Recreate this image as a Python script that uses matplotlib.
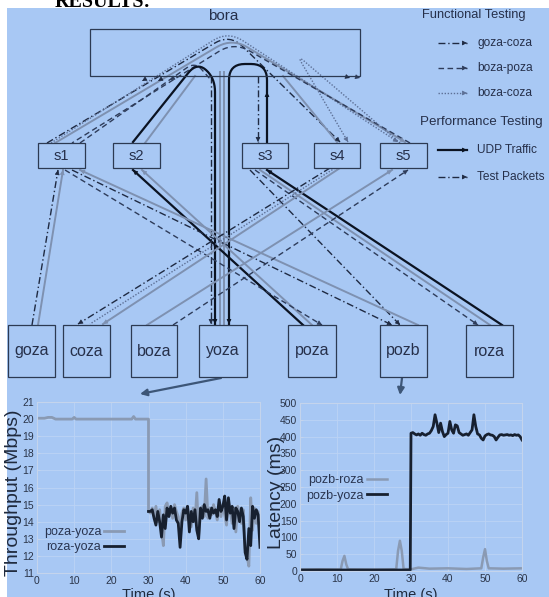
import matplotlib.pyplot as plt
import numpy as np
from matplotlib.patches import Rectangle

plt.rcParams['font.family'] = ['Liberation Sans', 'DejaVu Sans']

BG = '#a8c8f4'
INK = '#26304a'

# ---------------- chart data ----------------
thr_time_pre = [0, 2, 3, 4, 5, 9.5, 10, 10.5, 25.5, 26, 26.5, 30]
poza_yoza_pre = [20.05, 20.05, 20.1, 20.1, 20.0, 20.0, 20.1, 20.0, 20.0, 20.15, 20.0, 20.0]
time_post = np.arange(30, 60.01, 0.5)
poza_yoza_post = [14.6, 14.5, 14.8, 14.3, 14.9, 14.0, 14.7, 13.5, 12.6, 14.9,
                  15.1, 14.4, 14.8, 14.2, 15.0, 14.6, 14.3, 13.2, 14.5, 14.8,
                  14.1, 14.9, 14.4, 13.7, 14.8, 14.0, 15.7, 13.2, 14.5, 14.9,
                  14.3, 16.5, 14.2, 14.8, 14.4, 15.0, 14.6, 14.1, 14.8, 14.3,
                  15.0, 14.4, 13.8, 15.1, 14.6, 13.9, 14.8, 13.4, 14.9, 14.5,
                  13.9, 14.7, 12.4, 12.0, 11.4, 15.4, 13.5, 14.8, 13.9, 14.6, 13.2]
roza_yoza_post = [14.6, 14.6, 14.7, 14.2, 13.8, 14.6, 14.0, 13.1, 14.4, 13.6,
                  14.8, 14.3, 14.9, 14.5, 14.8, 14.1, 13.9, 12.5, 14.0, 14.7,
                  14.5, 14.9, 13.4, 14.6, 14.0, 14.7, 13.5, 13.0, 14.8, 14.2,
                  15.0, 14.6, 14.7, 14.2, 14.8, 14.5, 14.7, 14.3, 15.3, 14.6,
                  14.9, 15.5, 14.1, 15.4, 14.5, 14.9, 13.6, 14.8, 14.6, 14.0,
                  14.8, 14.3, 12.2, 11.8, 13.6, 12.6, 14.9, 14.2, 14.7, 14.4, 12.5]

lat_roza_time = [0, 5, 11, 11.5, 12, 12.5, 13, 20, 26, 26.5, 27, 27.5, 28, 30,
                 32, 35, 40, 45, 49, 49.5, 50, 50.5, 51, 55, 60]
pozb_roza = [4, 5, 4, 30, 45, 20, 5, 4, 5, 60, 90, 60, 6, 5,
             10, 7, 8, 6, 8, 40, 65, 30, 8, 7, 8]
lat_yoza_time_pre = [0, 15, 29.8]
pozb_yoza_pre = [3, 3, 3]
pozb_yoza_post = [410, 412, 408, 405, 408, 404, 410, 406, 404, 408,
                  410, 418, 430, 465, 440, 412, 440, 415, 400, 406,
                  410, 445, 420, 410, 435, 432, 412, 408, 404, 406,
                  408, 404, 412, 420, 465, 430, 408, 405, 395, 390,
                  402, 406, 408, 405, 404, 400, 390, 398, 405, 406,
                  404, 405, 406, 404, 405, 403, 406, 404, 405, 400, 390]

# ---------------- diagram layout ----------------
boxes = {
    'bora': (90, 29, 360, 76),
    's1': (38, 143, 85, 168), 's2': (113, 143, 160, 168), 's3': (242, 143, 288, 168),
    's4': (314, 143, 360, 168), 's5': (380, 143, 427, 168),
    'goza': (8, 325, 55, 377), 'coza': (63, 325, 110, 377), 'boza': (131, 325, 177, 377),
    'yoza': (199, 325, 247, 377), 'poza': (288, 325, 336, 377),
    'pozb': (380, 325, 427, 377), 'roza': (466, 325, 513, 377),
}

STY = {
    'dd': dict(c='#1f2a42', lw=1.0, ls=(0, (5, 2, 1, 2))),
    'da': dict(c='#2e3c5a', lw=1.0, ls=(0, (4, 2.5))),
    'dt': dict(c='#5d7096', lw=1.0, ls=(0, (1, 1.2))),
    'gr': dict(c='#7e91b1', lw=1.4, ls='-'),
    'udp': dict(c='#0b1322', lw=1.6, ls='-'),
}

fig = plt.figure(figsize=(5.49, 5.97), dpi=100, facecolor='white')
ax = fig.add_axes([0, 0, 1, 1])
ax.set_xlim(0, 549)
ax.set_ylim(597, 0)
ax.axis('off')

ax.add_patch(Rectangle((7, 7.5), 542, 590, facecolor=BG, edgecolor='none', zorder=0))
ax.text(55, 7, 'RESULTS:', family=['Liberation Serif', 'DejaVu Serif'], fontweight='bold',
        fontsize=14.5, va='baseline', ha='left', color='black', zorder=0.5)


def rounded(pts, r=10, n=10):
    pts = [np.array(p, float) for p in pts]
    out = [pts[0]]
    for i in range(1, len(pts) - 1):
        a, p, b = pts[i - 1], pts[i], pts[i + 1]
        da, db = a - p, b - p
        p1 = p + da * min(r / np.hypot(*da), 0.5)
        p2 = p + db * min(r / np.hypot(*db), 0.5)
        for s in np.linspace(0, 1, n):
            out.append((1 - s) ** 2 * p1 + 2 * (1 - s) * s * p + s ** 2 * p2)
    out.append(pts[-1])
    return np.array(out)


def head(p0, p1, color, size=7):
    p0, p1 = np.array(p0, float), np.array(p1, float)
    u = (p1 - p0) / np.hypot(*(p1 - p0))
    ax.annotate('', xy=p1, xytext=p1 - u * 4,
                arrowprops=dict(arrowstyle='-|>', color=color, lw=0.5,
                                mutation_scale=size, shrinkA=0, shrinkB=0), zorder=3)


def edge(pts, style, arrow=True, r=10):
    xy = rounded(pts, r)
    st = STY[style]
    ax.plot(xy[:, 0], xy[:, 1], color=st['c'], lw=st['lw'], ls=st['ls'], zorder=2)
    if arrow:
        head(xy[-2], xy[-1], st['c'])


# functional testing paths (over bora)
edge([(32, 325), (58, 170)], 'dd')
edge([(38, 325), (63, 170)], 'gr')
edge([(47, 143), (230, 34), (340, 142)], 'dd', r=18)
edge([(55, 143), (232, 38), (405, 142)], 'gr', r=18)
edge([(51, 143), (228, 31), (398, 142)], 'dt', r=18)
edge([(410, 143), (234, 42), (72, 143)], 'da', arrow=False, r=18)
head((234, 42), (170, 80), STY['da']['c'])
head((228, 31), (142, 81), STY['dd']['c'])
head((232, 38), (158, 81), STY['dd']['c'])
head((232, 38), (350, 78), STY['dd']['c'])
head((234, 42), (360, 78), STY['da']['c'])
edge([(400, 143), (297, 55), (348, 142)], 'dt', r=10)
edge([(80, 143), (195, 62), (211, 80)], 'da', arrow=False, r=10)
edge([(337, 142), (283, 76)], 'gr', arrow=False)

# bora to hosts / switches
edge([(211, 76), (211, 324)], 'dd')
edge([(258, 76), (258, 142)], 'dd')
edge([(220, 72), (220, 324)], 'gr', arrow=False)
edge([(224, 72), (224, 324)], 'gr', arrow=False)

# performance testing: UDP traffic
edge([(133, 142), (197, 62), (215, 78), (215, 324)], 'udp', r=14)
edge([(267, 143), (267, 64), (229, 64), (229, 324)], 'udp', r=16)
head((267, 120), (267, 92), STY['udp']['c'])
edge([(145, 143), (195, 76)], 'gr', arrow=False)

# switch <-> host crossings
edge([(303, 325), (133, 170)], 'udp')
edge([(312, 325), (142, 170)], 'gr')
edge([(502, 325), (267, 170)], 'udp')
edge([(260, 170), (490, 325)], 'gr', arrow=False)
edge([(255, 170), (478, 325)], 'da')
edge([(250, 170), (400, 325)], 'dd')
edge([(65, 170), (322, 325)], 'da')
edge([(418, 325), (80, 170)], 'gr')
edge([(72, 170), (392, 325)], 'dd')
edge([(330, 168), (78, 324)], 'dd')
edge([(340, 168), (103, 324)], 'gr')
edge([(335, 168), (90, 324)], 'dt', arrow=False)
edge([(147, 325), (392, 170)], 'gr')
edge([(173, 325), (408, 170)], 'da')

# boxes and labels
for name, (x0, y0, x1, y1) in boxes.items():
    face = 'none' if name == 'bora' else BG
    ax.add_patch(Rectangle((x0, y0), x1 - x0, y1 - y0, facecolor=face,
                           edgecolor='#2c3a52', lw=0.9, zorder=4))
    if name == 'bora':
        ax.text((x0 + x1) / 2 - 2, 16, name, ha='center', va='center', fontsize=11,
                color=INK, zorder=5)
    elif name.startswith('s'):
        ax.text((x0 + x1) / 2, (y0 + y1) / 2 + 1, name, ha='center', va='center',
                fontsize=10.5, color=INK, zorder=5)
    else:
        ax.text((x0 + x1) / 2, (y0 + y1) / 2, name, ha='center', va='center',
                fontsize=11.5, color=INK, zorder=5)

# diagram legend
ax.text(422, 15, 'Functional Testing', fontsize=9.3, color=INK, va='center')
ax.text(420, 122, 'Performance Testing', fontsize=9.6, color=INK, va='center')
legend_items = [(43, 'dd', 'goza-coza'), (68, 'da', 'boza-poza'), (93, 'dt', 'boza-coza'),
                (150, 'udp', 'UDP Traffic'), (177, 'dd', 'Test Packets')]
for y, st, label in legend_items:
    edge([(438, y), (467, y)], st)
    ax.text(477, y, label, fontsize=8.6, color=INK, va='center')

# arrows to the charts
ax.annotate('', xy=(140, 394), xytext=(221, 378),
            arrowprops=dict(arrowstyle='-|>', color='#3d5677', lw=1.6, mutation_scale=10,
                            shrinkA=0, shrinkB=0))
ax.annotate('', xy=(400, 395), xytext=(402, 378),
            arrowprops=dict(arrowstyle='-|>', color='#3d5677', lw=1.6, mutation_scale=10,
                            shrinkA=0, shrinkB=0))

# ---------------- charts ----------------
LIGHT = '#8a9ab3'
DARKL = '#17202f'


def style_chart(a):
    a.set_facecolor('none')
    for s in a.spines.values():
        s.set_color('#c4d4ec')
        s.set_linewidth(0.8)
    a.grid(True, color='#bcd3f4', lw=0.6)
    a.tick_params(labelsize=7.5, length=2, direction='in', colors='#c4d4ec',
                  labelcolor='#2a3448', pad=2)
    a.set_xlim(0, 60)
    a.set_xticks(range(0, 61, 10))


ax1 = fig.add_axes([37 / 549, 1 - 573 / 597, 223 / 549, 171 / 597])
style_chart(ax1)
ax1.plot(thr_time_pre + list(time_post), poza_yoza_pre + poza_yoza_post,
         color=LIGHT, lw=2.0, label='poza-yoza')
ax1.plot(time_post, roza_yoza_post, color=DARKL, lw=2.0, label='roza-yoza')
ax1.set_ylim(11, 21)
ax1.set_yticks(range(11, 22))
ax1.set_ylabel('Throughput (Mbps)', fontsize=14, color='#1f2a3d')
ax1.yaxis.set_label_coords(-0.067, 0.47)
ax1.set_xlabel('Time (s)', fontsize=10.5, color='#1f2a3d')
ax1.xaxis.set_label_coords(0.5, -0.088)
ax1.legend(loc='center', bbox_to_anchor=(0.21, 0.195), frameon=False, markerfirst=False,
           fontsize=9, handlelength=1.6, handletextpad=0.2, labelspacing=0.25,
           labelcolor='#2a3550')

ax2 = fig.add_axes([300 / 549, 1 - 571 / 597, 222 / 549, 168 / 597])
style_chart(ax2)
ax2.plot(lat_roza_time, pozb_roza, color=LIGHT, lw=1.8, label='pozb-roza')
ax2.plot(lat_yoza_time_pre + list(time_post), pozb_yoza_pre + pozb_yoza_post,
         color=DARKL, lw=2.0, label='pozb-yoza')
ax2.set_ylim(0, 500)
ax2.set_yticks(range(0, 501, 50))
ax2.set_ylabel('Latency (ms)', fontsize=14, color='#1f2a3d')
ax2.yaxis.set_label_coords(-0.068, 0.47)
ax2.set_xlabel('Time (s)', fontsize=10.5, color='#1f2a3d')
ax2.xaxis.set_label_coords(0.5, -0.101)
ax2.legend(loc='center', bbox_to_anchor=(0.21, 0.494), frameon=False, markerfirst=False,
           fontsize=9, handlelength=1.6, handletextpad=0.2, labelspacing=0.25,
           labelcolor='#2a3550')

fig.savefig('out.png', dpi=100)
